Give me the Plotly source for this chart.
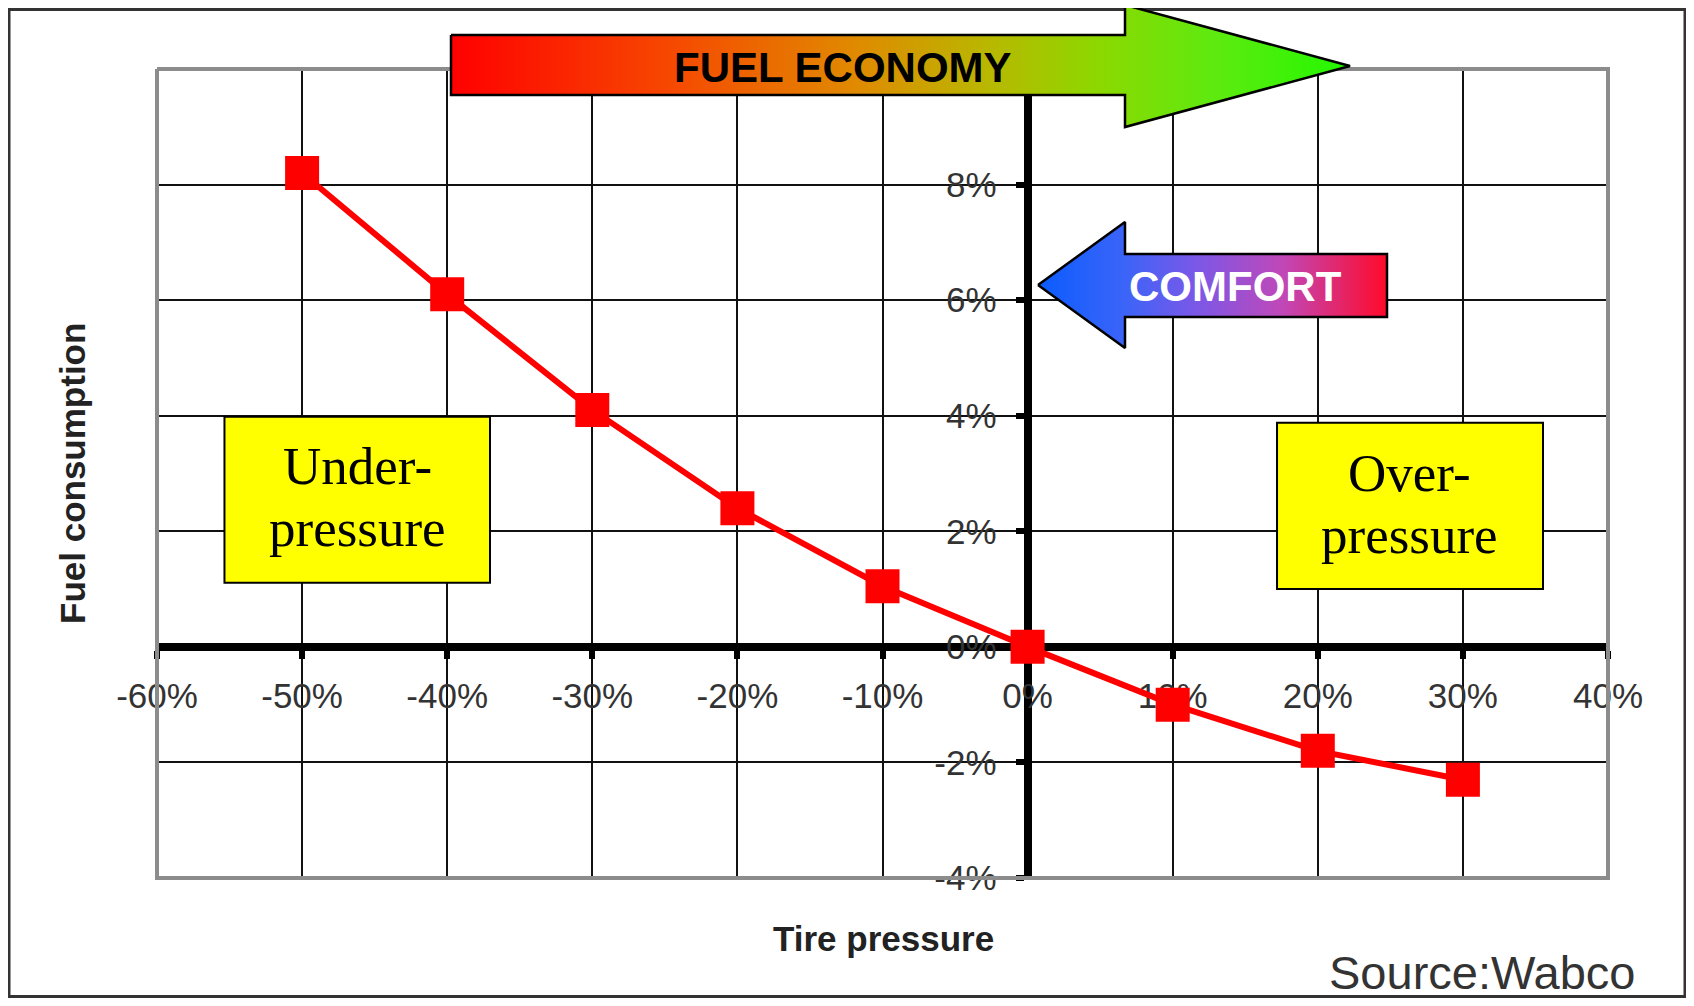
import plotly.graph_objects as go

# ---------------- data ----------------
pressure = [-50, -40, -30, -20, -10, 0, 10, 20, 30]          # tire pressure deviation (%)
fuel = [8.2, 6.1, 4.1, 2.4, 1.05, 0.0, -1.0, -1.8, -2.3]      # fuel consumption change (%)
x_ticks = [-60, -50, -40, -30, -20, -10, 0, 10, 20, 30, 40]
x_tick_labels = ["-60%", "-50%", "-40%", "-30%", "-20%", "-10%", "0%", "10%", "20%", "30%", "40%"]
y_ticks = [-4, -2, 0, 2, 4, 6, 8]
y_tick_labels = ["-4%", "-2%", "0%", "2%", "4%", "6%", "8%"]
x_range = [-60, 40]
y_range = [-4, 10]

# ---------------- page geometry ----------------
OFF = 8                      # default body margin of the html page
W, H = 1694 - 2 * OFF, 1006 - 2 * OFF
PL, PR, PT, PB = 157, 1608, 69, 878   # plot area on the page (px)


def fx(px):
    return (px - OFF) / W


def fy(py):
    return 1 - (py - OFF) / H


xdom = [fx(PL), fx(PR)]
ydom = [fy(PB), fy(PT)]
xaxis_pos = ydom[0] + (0 - y_range[0]) / (y_range[1] - y_range[0]) * (ydom[1] - ydom[0])
yaxis_pos = xdom[0] + (0 - x_range[0]) / (x_range[1] - x_range[0]) * (xdom[1] - xdom[0])

TICKFONT = dict(family="Liberation Sans, Arial, sans-serif", size=35, color="#333333")

fig = go.Figure()

# main data series
fig.add_trace(go.Scatter(
    x=pressure, y=fuel, mode="lines+markers",
    line=dict(color="#FF0000", width=6),
    marker=dict(symbol="square", size=34, color="#FF0000"),
    cliponaxis=False, hoverinfo="skip", showlegend=False,
))

# grey plot-area border (drawn in the overlay so the arrow can sit on top of it)
fig.add_trace(go.Scatter(
    x=[PL, PR, PR, PL, PL], y=[PT, PT, PB, PB, PT], xaxis="x2", yaxis="y2",
    mode="lines", line=dict(color="#8C8C8C", width=4),
    hoverinfo="skip", showlegend=False,
))

# gradient arrows (decorations, page-pixel overlay axes)
fuel_arrow_x = [451, 1125, 1125, 1350, 1125, 1125, 451, 451]
fuel_arrow_y = [35, 35, 5, 66, 127, 95, 95, 35]
fig.add_trace(go.Scatter(
    x=fuel_arrow_x, y=fuel_arrow_y, xaxis="x2", yaxis="y2",
    mode="lines", fill="toself",
    fillgradient=dict(type="horizontal", start=451, stop=1350,
                      colorscale=[[0, "#FF0000"], [0.25, "#F64A00"], [0.45, "#E08A00"],
                                  [0.6, "#B8B800"], [0.72, "#8CD800"], [0.85, "#5EEA10"],
                                  [1, "#22F800"]]),
    line=dict(color="black", width=2.5), hoverinfo="skip", showlegend=False,
))

comfort_arrow_x = [1038, 1125, 1125, 1387, 1387, 1125, 1125, 1038]
comfort_arrow_y = [285, 222, 254, 254, 317, 317, 348, 285]
fig.add_trace(go.Scatter(
    x=comfort_arrow_x, y=comfort_arrow_y, xaxis="x2", yaxis="y2",
    mode="lines", fill="toself",
    fillgradient=dict(type="horizontal", start=1038, stop=1387,
                      colorscale=[[0, "#0A5CFF"], [0.25, "#3C64F8"], [0.45, "#7A58E8"],
                                  [0.7, "#C048B8"], [1, "#FF0A2A"]]),
    line=dict(color="black", width=2.5), hoverinfo="skip", showlegend=False,
))

shapes = [
    # outer frame
    dict(type="rect", xref="x2", yref="y2", x0=9, x1=1685, y0=9.5, y1=996.5,
         line=dict(color="#333333", width=3), layer="below"),
    # yellow boxes
    dict(type="rect", xref="x", yref="y", x0=-55.35, x1=-37.05, y0=1.11, y1=3.98,
         fillcolor="#FFFF00", line=dict(color="black", width=2), layer="above"),
    dict(type="rect", xref="x", yref="y", x0=17.19, x1=35.52, y0=1.0, y1=3.88,
         fillcolor="#FFFF00", line=dict(color="black", width=2), layer="above"),
]

SERIF = dict(family="Liberation Serif, Times New Roman, serif", size=53, color="black")
annotations = [
    dict(text="FUEL ECONOMY", xref="x2", yref="y2", x=843, y=67, showarrow=False,
         font=dict(family="Liberation Sans, Arial", size=42, color="black", weight="bold")),
    dict(text="COMFORT", xref="x2", yref="y2", x=1235, y=286, showarrow=False,
         font=dict(family="Liberation Sans, Arial", size=42, color="white", weight="bold")),
    dict(text="Tire pressure", xref="x2", yref="y2", x=883, y=938, showarrow=False,
         font=dict(family="Liberation Sans, Arial", size=35, color="#222222", weight="bold")),
    dict(text="Fuel consumption", xref="x2", yref="y2", x=72, y=474, showarrow=False,
         textangle=-90,
         font=dict(family="Liberation Sans, Arial", size=35, color="#222222", weight="bold")),
    dict(text="Source:Wabco", xref="x2", yref="y2", x=1482, y=972, showarrow=False,
         font=dict(family="Liberation Sans, Arial", size=47, color="#333333")),
    dict(text="Under-", xref="x", yref="y", x=-46.2, y=3.13, showarrow=False, font=SERIF),
    dict(text="pressure", xref="x", yref="y", x=-46.2, y=2.06, showarrow=False, font=SERIF),
    dict(text="Over-", xref="x", yref="y", x=26.35, y=3.01, showarrow=False, font=SERIF),
    dict(text="pressure", xref="x", yref="y", x=26.35, y=1.94, showarrow=False, font=SERIF),
]

fig.update_layout(
    template="none",
    width=W, height=H, margin=dict(l=0, r=0, t=0, b=0, autoexpand=False),
    paper_bgcolor="white", plot_bgcolor="rgba(0,0,0,0)",
    showlegend=False,
    xaxis=dict(domain=xdom, range=x_range, anchor="free", position=xaxis_pos,
               tickvals=x_ticks, ticktext=x_tick_labels, automargin=False,
               showgrid=True, gridcolor="#111111", gridwidth=2, zeroline=False,
               showline=True, linecolor="black", linewidth=8,
               ticks="outside", ticklen=8, tickwidth=6, tickcolor="black",
               tickfont=TICKFONT, ticklabelstandoff=7, layer="below traces",
               fixedrange=True),
    yaxis=dict(domain=ydom, range=y_range, anchor="free", position=yaxis_pos,
               tickvals=y_ticks, ticktext=y_tick_labels, automargin=False,
               showgrid=True, gridcolor="#111111", gridwidth=2, zeroline=False,
               showline=True, linecolor="black", linewidth=8,
               ticks="outside", ticklen=8, tickwidth=6, tickcolor="black",
               tickfont=TICKFONT, ticklabelstandoff=12, layer="below traces",
               fixedrange=True),
    xaxis2=dict(domain=[0, 1], range=[OFF, OFF + W], anchor="y2", visible=False,
                automargin=False, fixedrange=True),
    yaxis2=dict(domain=[0, 1], range=[OFF + H, OFF], anchor="x2", visible=False,
                automargin=False, fixedrange=True),
    shapes=shapes,
    annotations=annotations,
)

fig.write_html("out.html")
